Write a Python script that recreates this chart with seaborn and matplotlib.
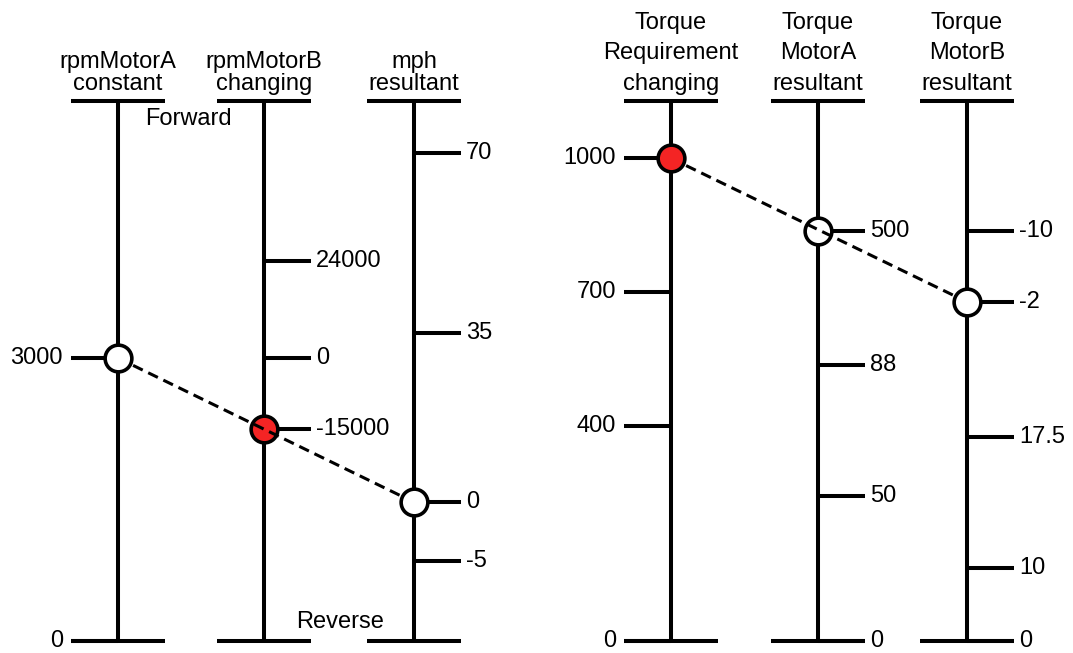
import matplotlib
matplotlib.use("Agg")
import matplotlib.pyplot as plt
import seaborn as sns
import pandas as pd

# heights along each scale: 0 = bottom bar, 100 = top bar
headers = [
    ["rpmMotorA", "constant"],
    ["rpmMotorB", "changing"],
    ["mph", "resultant"],
    ["Torque", "Requirement", "changing"],
    ["Torque", "MotorA", "resultant"],
    ["Torque", "MotorB", "resultant"],
]

rpmA_labels = ["3000", "0"]
rpmA_pos = [52.4, 0]
rpmB_labels = ["24000", "0", "-15000"]
rpmB_pos = [70.4, 52.4, 39.3]
mph_labels = ["70", "35", "0", "-5"]
mph_pos = [90.4, 57.0, 25.7, 14.8]
torq_req_labels = ["1000", "700", "400", "0"]
torq_req_pos = [89.4, 64.6, 39.8, 0]
torq_a_labels = ["500", "88", "50", "0"]
torq_a_pos = [75.9, 51.1, 26.9, 0]
torq_b_labels = ["-10", "-2", "17.5", "10", "0"]
torq_b_pos = [75.9, 62.8, 37.8, 13.5, 0]

# reading on each scale (group, scale index, height, input?)
read_group = ["speed", "speed", "speed", "torque", "torque", "torque"]
read_scale = [0, 1, 2, 3, 4, 5]
read_pos = [52.4, 39.3, 25.7, 89.4, 75.9, 62.8]
read_input = [False, True, False, True, False, False]

tick_labels = [rpmA_labels, rpmB_labels, mph_labels, torq_req_labels, torq_a_labels, torq_b_labels]
tick_pos = [rpmA_pos, rpmB_pos, mph_pos, torq_req_pos, torq_a_pos, torq_b_pos]
tick_side = [-1, 1, 1, -1, 1, 1]

# layout (pixels across, scale units up)
axis_x = [118, 264, 414, 671, 818, 967]
half_bar = 47
px = 5.4  # pixels per scale unit

sns.set_style("white")
plt.rcParams["font.family"] = ["Liberation Sans", "DejaVu Sans"]
plt.rcParams["text.color"] = "black"
FS = 17
LW = 2.9

fig = plt.figure(figsize=(10.73, 6.53), dpi=100)
ax = fig.add_axes([0, 0, 1, 1])
ax.set_xlim(0, 1073)
ax.set_ylim(-12 / px, 641 / px)
ax.axis("off")

for i, x in enumerate(axis_x):
    ax.plot([x, x], [0, 100], color="black", lw=LW, solid_capstyle="butt", zorder=2)
    for y in (0, 100):
        ax.plot([x - half_bar, x + half_bar], [y, y], color="black", lw=LW,
                solid_capstyle="butt", zorder=2)
    side = tick_side[i]
    for lab, h in zip(tick_labels[i], tick_pos[i]):
        end = x + side * half_bar
        ax.plot([x, end], [h, h], color="black", lw=LW, solid_capstyle="butt", zorder=2)
        if side > 0:
            ax.text(end + 5, h, lab, ha="left", va="center", fontsize=FS, color="black")
        else:
            ax.text(end - 8, h, lab, ha="right", va="center", fontsize=FS, color="black")
    lines = headers[i]
    step = 4.2 if len(lines) == 2 else 5.7
    for k, line in enumerate(reversed(lines)):
        ax.text(x, 103.1 + k * step, line, ha="center", va="center", fontsize=FS,
                color="black")

ax.text(188, 96.7, "Forward", ha="center", va="center", fontsize=FS, color="black")
ax.text(340, 3.5, "Reverse", ha="center", va="center", fontsize=FS, color="black")

df = pd.DataFrame({
    "group": read_group,
    "x": [axis_x[s] for s in read_scale],
    "h": read_pos,
    "input": read_input,
})

for g, sub in df.groupby("group", sort=False):
    ends = sub.iloc[[0, -1]]
    sns.lineplot(data=ends, x="x", y="h", ax=ax, color="black", lw=2.2,
                 linestyle=(0, (3.5, 2)), zorder=4, sort=False)
    mid = sub.iloc[[1]]
    for part, z in ((mid, 3), (ends, 5)):
        for inp, color in ((True, "#f42424"), (False, "white")):
            pts = part[part["input"] == inp]
            if len(pts):
                sns.scatterplot(data=pts, x="x", y="h", ax=ax, s=370, color=color,
                                edgecolor="black", linewidth=2.6, zorder=z)

ax.set_xlabel("")
ax.set_ylabel("")
ax.axis("off")
fig.savefig("out.png", dpi=100)
